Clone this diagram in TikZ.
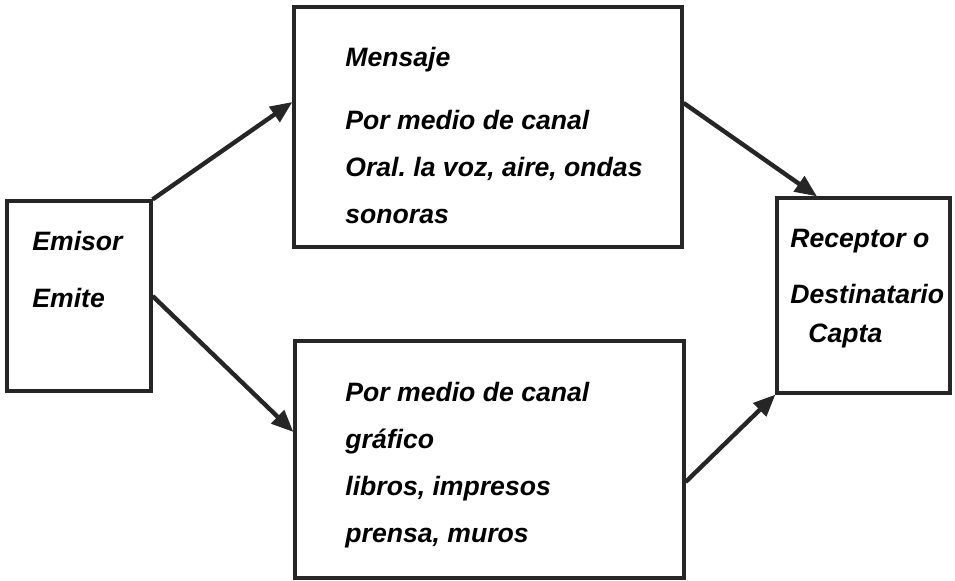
\documentclass[tikz,border=0pt]{standalone}
\usepackage{fontspec}
\setmainfont{Liberation Sans}
\usetikzlibrary{arrows.meta,positioning}
\frenchspacing
\tikzset{
  box/.style={draw=black!85,line width=1.6pt,inner sep=0pt},
  txt/.style={anchor=base west,inner sep=0pt,align=left,font=\fontsize{13.3}{23.5}\selectfont\bfseries\itshape},
  arr/.style={-{Triangle[length=11pt,width=9pt]},draw=black!85,line width=2.2pt}
}
\begin{document}
\begin{tikzpicture}[x=0.5pt,y=-0.5pt]
  \useasboundingbox (0,0) rectangle (955,581);
  % cajas
  \node[box,minimum width=72pt,minimum height=95pt] (emisor) at (79,296) {};
  \node[box,minimum width=194pt,minimum height=120pt] (mensaje) at (488,127) {};
  \node[box,minimum width=194.5pt,minimum height=118.5pt] (grafico) at (489.5,459.5) {};
  \node[box,minimum width=86.5pt,minimum height=97.5pt] (receptor) at (863.5,295.5) {};
  % textos (anclados en la linea base de la ultima linea)
  \node[txt] (emisortxt) at (32,308) {Emisor\\[5pt]Emite};
  \node[txt] (mensajetxt) at (345,224) {Mensaje\\[8pt]Por medio de canal\\Oral. la voz, aire, ondas\\sonoras};
  \node[txt] (graficotxt) at (345,543) {Por medio de canal\\gr\'afico\\libros, impresos\\prensa, muros};
  \node[txt] (receptortxt) at (790,343) {Receptor o\\[4.5pt]Destinatario\\[-4pt]\hspace*{9pt}Capta};
  % flechas
  \draw[arr] (emisor.north east) -- ([yshift=12.5pt]mensaje.west);
  \draw[arr] (emisor.east) -- ([yshift=13.75pt]grafico.west);
  \draw[arr] ([yshift=12pt]mensaje.east) -- ([xshift=-23.25pt]receptor.north);
  \draw[arr] ([yshift=-11.25pt]grafico.east) -- (receptor.south west);
\end{tikzpicture}
\end{document}
